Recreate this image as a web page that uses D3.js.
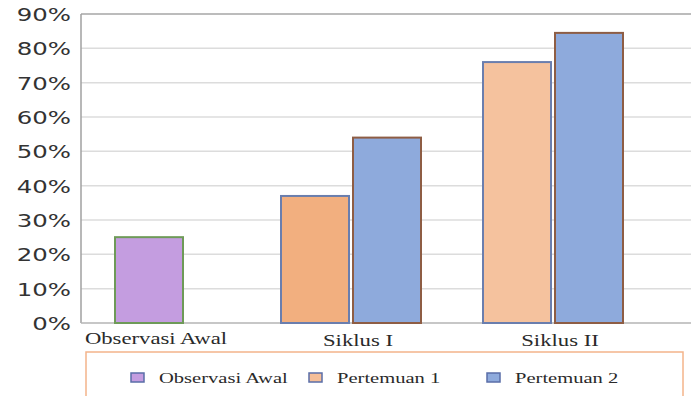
<!DOCTYPE html>
<html>
<head>
<meta charset="utf-8">
<script src="https://cdn.jsdelivr.net/npm/d3@7"></script>
<style>
  html, body { margin: 0; padding: 0; background: #fff; }
  svg { display: block; }
</style>
</head>
<body>
<svg id="chart" width="691" height="396"></svg>
<script>
// Data
const categories = ["Observasi Awal", "Siklus I", "Siklus II"];
const seriesNames = ["Observasi Awal", "Pertemuan 1", "Pertemuan 2"];
const observasiAwal = [25, null, null];
const pertemuan1 = [null, 37, 76];
const pertemuan2 = [null, 54, 84.5];
const yTicks = [0, 10, 20, 30, 40, 50, 60, 70, 80, 90];

const seriesValues = [observasiAwal, pertemuan1, pertemuan2];

// Styles
const fills = {
  "Observasi Awal": () => "#C49DE0",
  "Pertemuan 1": cat => cat === "Siklus II" ? "#F5C29E" : "#F2AF7F",
  "Pertemuan 2": () => "#8EAADC"
};
const strokes = {
  "Observasi Awal": "#6E9A58",
  "Pertemuan 1": "#6A7EAE",
  "Pertemuan 2": "#8E5D44"
};
const legendFills = { "Observasi Awal": "#C49DE0", "Pertemuan 1": "#F5BE98", "Pertemuan 2": "#8EAADC" };

const svg = d3.select("#chart");
const plot = { left: 81, right: 691, top: 14, bottom: 323 };

const y = d3.scaleLinear().domain([0, 90]).range([plot.bottom, plot.top]);
const x = d3.scaleBand().domain(categories).range([48, 654]).padding(0);

// Gridlines
svg.append("g")
  .selectAll("line")
  .data(yTicks.filter(t => t > 0 && t < 90))
  .join("line")
  .attr("x1", plot.left).attr("x2", plot.right)
  .attr("y1", d => y(d)).attr("y2", d => y(d))
  .attr("stroke", "#DCDCDC").attr("stroke-width", 1.5);

// Frame: top, left, bottom
svg.append("line").attr("x1", plot.left).attr("x2", plot.right)
  .attr("y1", y(90)).attr("y2", y(90)).attr("stroke", "#A6A6A6").attr("stroke-width", 1.5);
svg.append("line").attr("x1", plot.left).attr("x2", plot.left)
  .attr("y1", y(90)).attr("y2", y(0)).attr("stroke", "#A0A0A0").attr("stroke-width", 1.5);
svg.append("line").attr("x1", plot.left).attr("x2", plot.right)
  .attr("y1", y(0)).attr("y2", y(0)).attr("stroke", "#B4B4B4").attr("stroke-width", 1.5);

// Y tick labels
const xStretch = 1.32;
svg.append("g")
  .selectAll("text")
  .data(yTicks)
  .join("text")
  .attr("transform", d => `translate(71,${y(d) + 7}) scale(${xStretch},1)`)
  .attr("text-anchor", "end")
  .attr("font-family", "DejaVu Sans, Verdana, sans-serif")
  .attr("font-size", 18.5)
  .attr("fill", "#333")
  .text(d => d + "%");

// Bars
const barW = 68, barGap = 4;
const barData = [];
categories.forEach((cat, ci) => {
  const present = seriesNames
    .map((s, si) => ({ series: s, value: seriesValues[si][ci] }))
    .filter(d => d.value != null);
  present.forEach((d, i) => {
    barData.push({
      category: cat, series: d.series, value: d.value,
      offset: (i - (present.length - 1) / 2) * (barW + barGap) - barW / 2
    });
  });
});

svg.append("g")
  .selectAll("rect")
  .data(barData)
  .join("rect")
  .attr("x", d => x(d.category) + x.bandwidth() / 2 + d.offset)
  .attr("width", barW)
  .attr("y", d => y(d.value))
  .attr("height", d => y(0) - y(d.value))
  .attr("fill", d => fills[d.series](d.category))
  .attr("stroke", d => strokes[d.series])
  .attr("stroke-width", 2);

// Category labels
svg.append("g")
  .selectAll("text")
  .data(categories)
  .join("text")
  .attr("transform", (d, i) => `translate(${x(d) + x.bandwidth() / 2 + 7},${i === 0 ? 344 : 346}) scale(1.42,1)`)
  .attr("text-anchor", "middle")
  .attr("font-family", "Liberation Serif, Times New Roman, serif")
  .attr("font-size", 16)
  .attr("fill", "#2a2a2a")
  .text(d => d);

// Legend
const legend = svg.append("g");
legend.append("rect")
  .attr("x", 86).attr("y", 352).attr("width", 597).attr("height", 60)
  .attr("fill", "#fff").attr("stroke", "#F4B48A").attr("stroke-width", 1.5);

const legendX = d3.scalePoint().domain(seriesNames).range([131, 487]);
const item = legend.selectAll("g.item")
  .data(seriesNames)
  .join("g")
  .attr("class", "item")
  .attr("transform", d => `translate(${legendX(d)},373)`);
item.append("rect")
  .attr("width", 13).attr("height", 9)
  .attr("fill", d => legendFills[d])
  .attr("stroke", "#5A6EA8").attr("stroke-width", 1.5);
item.append("text")
  .attr("transform", "translate(28,10) scale(1.37,1)")
  .attr("font-family", "Liberation Serif, Times New Roman, serif")
  .attr("font-size", 15)
  .attr("fill", "#2a2a2a")
  .text(d => d);
</script>
</body>
</html>
